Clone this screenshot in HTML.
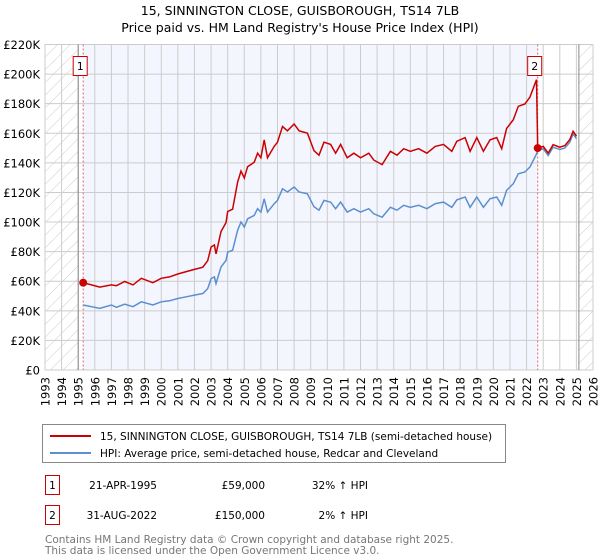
<!DOCTYPE html>
<html><head><meta charset="utf-8"><style>
body{margin:0;background:#fff;font-family:"Liberation Sans","DejaVu Sans",sans-serif;}
#wrap{position:relative;width:600px;height:560px;overflow:hidden;}
svg text{font-family:"DejaVu Sans","Liberation Sans",sans-serif;}
</style></head><body>
<div id="wrap">
<svg id="chart" width="600" height="560">
<defs><pattern id="hatch" width="9" height="9" patternUnits="userSpaceOnUse" patternTransform="rotate(45)"><line x1="0" y1="0" x2="0" y2="9" stroke="#ccc" stroke-width="1"/></pattern></defs>
<text x="300" y="15" text-anchor="middle" font-size="12.5">15, SINNINGTON CLOSE, GUISBOROUGH, TS14 7LB</text>
<text x="300" y="32" text-anchor="middle" font-size="12.5">Price paid vs. HM Land Registry's House Price Index (HPI)</text>
<g id="plot"></g>
<g>
<rect x="42.5" y="424.5" width="463" height="38" fill="#fff" stroke="#888"/>
<line x1="50" y1="436" x2="91" y2="436" stroke="#cc0000" stroke-width="2"/>
<text x="100" y="440" font-size="10.5">15, SINNINGTON CLOSE, GUISBOROUGH, TS14 7LB (semi-detached house)</text>
<line x1="50" y1="453" x2="91" y2="453" stroke="#5b8fd0" stroke-width="2"/>
<text x="100" y="457" font-size="10.5">HPI: Average price, semi-detached house, Redcar and Cleveland</text>
</g>
<g font-size="10.5">
<rect x="45.5" y="475.5" width="14" height="19" fill="#fff" stroke="#cc0000"/>
<text x="52.5" y="489" text-anchor="middle">1</text>
<text x="157" y="489" text-anchor="end">21-APR-1995</text>
<text x="265" y="489" text-anchor="end">£59,000</text>
<text x="368" y="489" text-anchor="end">32% ↑ HPI</text>
<rect x="45.5" y="505.5" width="14" height="19" fill="#fff" stroke="#cc0000"/>
<text x="52.5" y="519" text-anchor="middle">2</text>
<text x="157" y="519" text-anchor="end">31-AUG-2022</text>
<text x="265" y="519" text-anchor="end">£150,000</text>
<text x="368" y="519" text-anchor="end">2% ↑ HPI</text>
</g>
<text x="45" y="543" font-size="10.5" fill="#777">Contains HM Land Registry data © Crown copyright and database right 2025.</text>
<text x="45" y="554" font-size="10.5" fill="#777">This data is licensed under the Open Government Licence v3.0.</text>
</svg>
</div>
<script>
const yearTicks=[1993,1994,1995,1996,1997,1998,1999,2000,2001,2002,2003,2004,2005,2006,2007,2008,2009,2010,2011,2012,2013,2014,2015,2016,2017,2018,2019,2020,2021,2022,2023,2024,2025,2026];
const yTicks=[0,20,40,60,80,100,120,140,160,180,200,220];
const hpiTimes=[1995.3,1995.8,1996.3,1997.0,1997.3,1997.8,1998.3,1998.8,1999.5,2000,2000.5,2001,2001.5,2002,2002.5,2002.8,2003,2003.2,2003.3,2003.6,2003.9,2004.0,2004.3,2004.6,2004.8,2005.0,2005.2,2005.6,2005.8,2006.0,2006.2,2006.4,2006.8,2007.0,2007.3,2007.6,2008.0,2008.3,2008.8,2009.2,2009.5,2009.8,2010.2,2010.5,2010.8,2011.2,2011.6,2012,2012.5,2012.8,2013.3,2013.8,2014.2,2014.6,2015,2015.5,2016,2016.5,2017,2017.5,2017.8,2018.3,2018.6,2019,2019.4,2019.8,2020.2,2020.5,2020.8,2021.2,2021.5,2021.9,2022.2,2022.6,2022.67,2023,2023.3,2023.6,2024,2024.3,2024.6,2024.8,2025.0];
const hpiValues=[43.9,42.8,41.7,43.9,42.4,44.5,42.8,46.1,43.9,46.1,46.8,48.3,49.5,50.6,51.7,55,61.8,62.9,58.4,69.6,74.1,79.7,80.9,94.4,100,96.6,102.2,104.5,109,106.7,115.7,106.7,112.4,114.6,122.5,120.3,123.7,120.3,119.1,110.3,108,114.6,113.5,109,113.5,106.7,109,106.7,109,105.6,103.3,110,108,111.3,110,111.3,109,112.4,113.5,110,115,116.9,110,116.9,110,115.7,116.9,111.3,121.4,125.9,132.6,133.8,137.2,146,148.4,149.5,145,150.6,149,150,154,159.6,156.3];
const propTimes=[1995.3,1995.8,1996.3,1997.0,1997.3,1997.8,1998.3,1998.8,1999.5,2000,2000.5,2001,2001.5,2002,2002.5,2002.8,2003,2003.2,2003.3,2003.6,2003.9,2004.0,2004.3,2004.6,2004.8,2005.0,2005.2,2005.6,2005.8,2006.0,2006.2,2006.4,2006.8,2007.0,2007.3,2007.6,2008.0,2008.3,2008.8,2009.2,2009.5,2009.8,2010.2,2010.5,2010.8,2011.2,2011.6,2012,2012.5,2012.8,2013.3,2013.8,2014.2,2014.6,2015,2015.5,2016,2016.5,2017,2017.5,2017.8,2018.3,2018.6,2019,2019.4,2019.8,2020.2,2020.5,2020.8,2021.2,2021.5,2021.9,2022.2,2022.6,2022.67,2023,2023.3,2023.6,2024,2024.3,2024.6,2024.8,2025.0];
const propValues=[59.0,57.5,56.0,57.5,57.0,59.8,57.5,62.0,59.0,62.0,62.9,64.9,66.5,68.0,69.5,73.9,83.1,84.5,78.5,93.5,99.6,107.1,108.7,126.9,134.4,129.8,137.4,140.4,146.5,143.4,155.5,143.4,151.1,154.0,164.6,161.7,166.3,161.7,160.1,148.2,145.2,154.0,152.5,146.5,152.5,143.4,146.5,143.4,146.5,141.9,138.8,147.8,145.2,149.6,147.8,149.6,146.5,151.1,152.5,147.8,154.6,157.1,147.8,157.1,147.8,155.5,157.1,149.6,163.2,169.2,178.2,179.8,184.4,196.2,150.0,151.1,146.6,152.3,150.6,151.7,155.7,161.4,158.0];
const saleTimes=[1995.3,2022.67];
const saleValues=[59,150];
const saleLabels=["1","2"];

const X0=45,X1=593,Y0=370,Y1=44.5;
const xs=t=>X0+(t-1993)/(2026-1993)*(X1-X0);
const ys=v=>Y0-v/220*(Y0-Y1);
const NS="http://www.w3.org/2000/svg";
const plot=document.getElementById('plot');
function mk(tag,attrs,parent){const e=document.createElementNS(NS,tag);for(const k in attrs)e.setAttribute(k,attrs[k]);(parent||plot).appendChild(e);return e;}

const bg=mk('rect',{x:X0,y:Y1,width:X1-X0,height:Y0-Y1,fill:'#fff'});


const shade=mk('rect',{x:xs(saleTimes[0]),y:Y1,width:xs(saleTimes[1])-xs(saleTimes[0]),height:Y0-Y1,fill:'#f3f6fe'});


const h1=mk('rect',{x:X0,y:Y1,width:xs(1995.0)-X0,height:Y0-Y1,fill:'url(#hatch)'});


const h2=mk('rect',{x:xs(2025.15),y:Y1,width:X1-xs(2025.15),height:Y0-Y1,fill:'url(#hatch)'});



yearTicks.forEach(y=>{
  const l=mk('line',{x1:xs(y),x2:xs(y),y1:Y1,y2:Y0,stroke:'#ccc','stroke-width':1});
  
  
  const t=mk('text',{x:0,y:0,'font-size':11.5,'text-anchor':'end',transform:`translate(${xs(y)+4.5},${Y0+7}) rotate(-90)`});
  t.textContent=y;
  
  
});
yTicks.forEach(v=>{
  const l=mk('line',{x1:X0,x2:X1,y1:ys(v),y2:ys(v),stroke:'#ccc','stroke-width':1});
  
  
  const t=mk('text',{x:X0-5,y:ys(v)+4.5,'text-anchor':'end','font-size':11.5});
  t.textContent=v===0?'£0':'£'+v+'K';
  
  
});
[1995.0,2025.15].forEach(t=>{
  const l=mk('line',{x1:xs(t),x2:xs(t),y1:Y1,y2:Y0,stroke:'#888','stroke-width':1});
  
  
});
saleTimes.forEach(t=>{
  const l=mk('line',{x1:xs(t),x2:xs(t),y1:Y1,y2:Y0,stroke:'#e06666','stroke-width':1,'stroke-dasharray':'2,2'});
  
  
});
const pathOf=(T,V)=>T.map((t,i)=>(i?'L':'M')+xs(t).toFixed(1)+','+ys(V[i]).toFixed(1)).join('');
const hpi=mk('path',{d:pathOf(hpiTimes,hpiValues),fill:'none',stroke:'#5b8fd0','stroke-width':1.5});


const prop=mk('path',{d:pathOf(propTimes,propValues),fill:'none',stroke:'#cc0000','stroke-width':1.5});


saleTimes.forEach((t,i)=>{
  const c=mk('circle',{cx:xs(t),cy:ys(saleValues[i]),r:4,fill:'#cc0000'});
  
  
  const bx=xs(t)-3;
  const r=mk('rect',{x:bx-7,y:56.5,width:14,height:19,fill:'#fff',stroke:'#cc0000'});
  
  
  const tx=mk('text',{x:bx,y:70,'text-anchor':'middle','font-size':11});
  tx.textContent=saleLabels[i];
  
  
});
</script>
</body></html>
